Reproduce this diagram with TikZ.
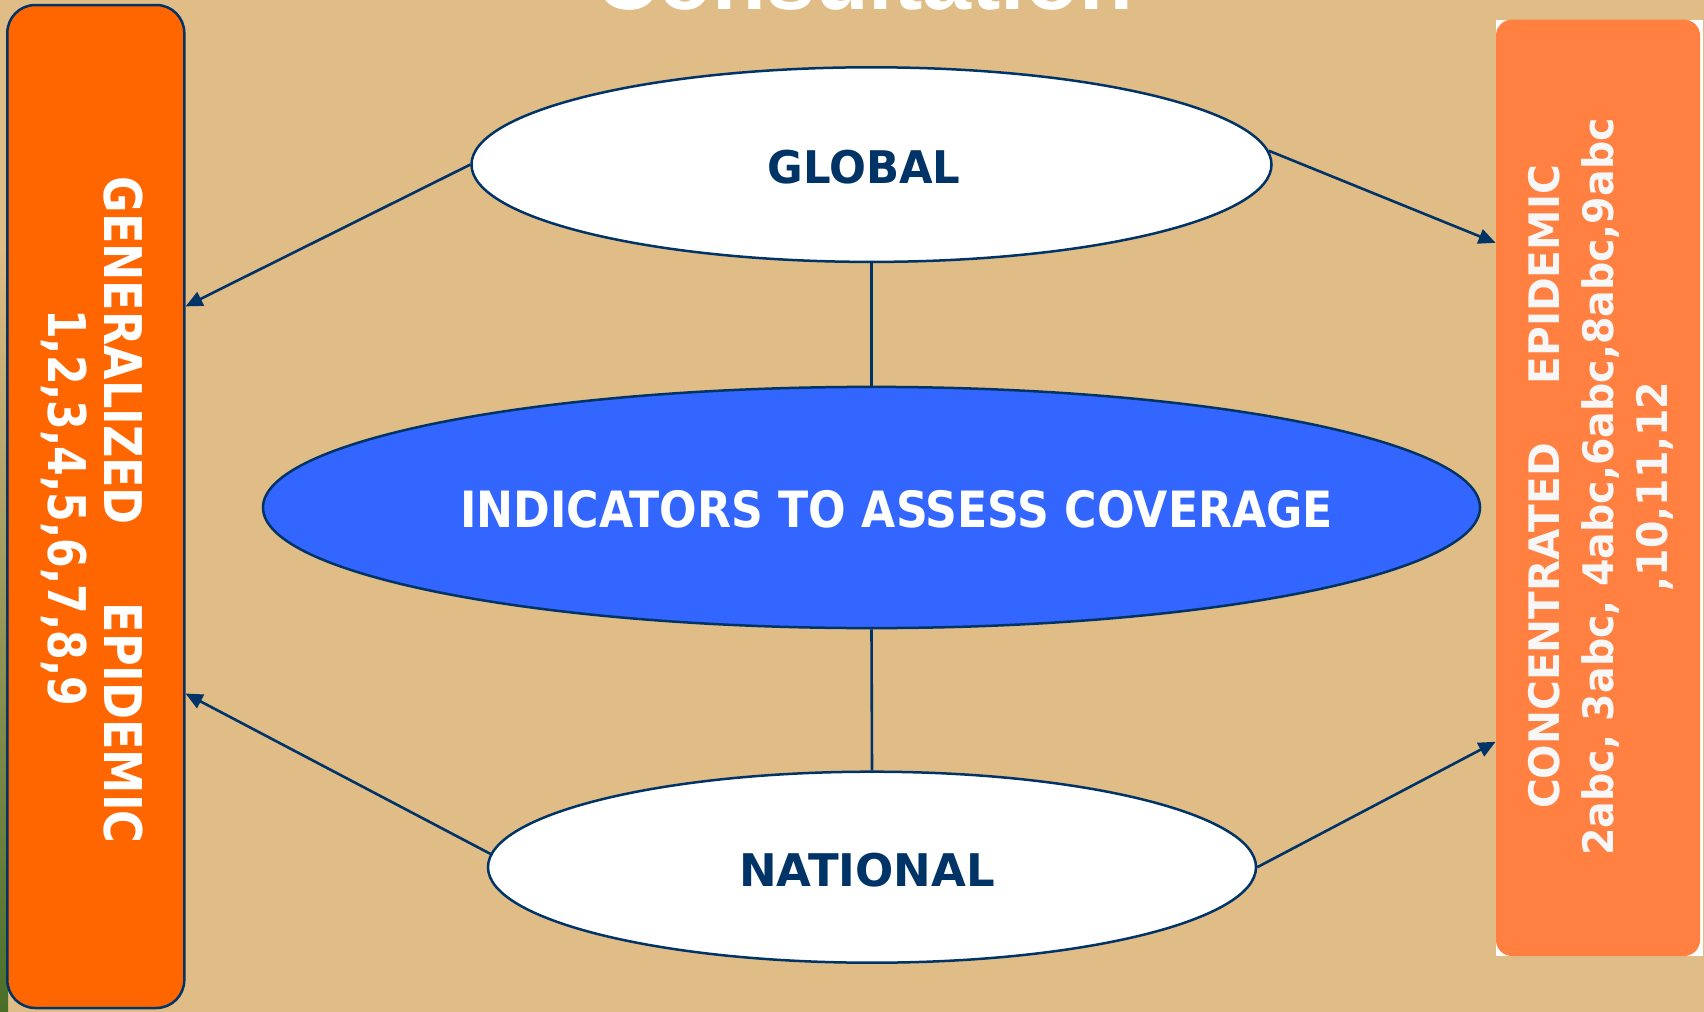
\documentclass[tikz,border=0pt]{standalone}
\usepackage{fontspec}
\setmainfont{DejaVu Sans}
\newfontfamily\titlefont{Liberation Sans}
\usetikzlibrary{arrows.meta,calc,shapes.geometric}
\definecolor{bg}{HTML}{E0BC86}
\definecolor{navy}{HTML}{003366}
\definecolor{lorange}{HTML}{FF6600}
\definecolor{rorange}{HTML}{FF8040}
\definecolor{cblue}{HTML}{3366FF}
\definecolor{lgreen}{HTML}{4A6E28}
\begin{document}
\begin{tikzpicture}[x=0.5pt,y=-0.5pt,
  ell/.style={ellipse, draw=navy, line width=1.25pt, inner sep=0pt},
  conn/.style={draw=navy, line width=1.3pt},
  arr/.style={conn, -{Triangle[length=8.5pt,width=7.5pt]}},
  lbl/.style={inner sep=0pt, anchor=base},
  ctext/.style={lbl, text=navy, font=\bfseries\fontsize{22.5pt}{27pt}\selectfont},
  ltext/.style={lbl, text=white, rotate=-90, font=\bfseries\fontsize{26pt}{30pt}\selectfont},
  rtext/.style={lbl, text=white!97!black, rotate=90, font=\bfseries\fontsize{21pt}{25pt}\selectfont}]
\useasboundingbox (0,0) rectangle (1704,1012);
\clip (0,0) rectangle (1704,1012);
\fill[bg] (0,0) rectangle (1704,1012);
\shade[top color=bg, bottom color=lgreen] (0,250) rectangle (8,1012);

% title (cut at the top)
\node[lbl, text=white, font=\titlefont\bfseries\fontsize{44pt}{50pt}\selectfont] (T) at (864,10) {Consultation};

% side boxes
\node[draw=navy, line width=1.25pt, fill=lorange, rounded corners=14pt,
      minimum width=88.5pt, minimum height=501.5pt, inner sep=0pt] (L) at (95.8,506.5) {};
\fill[white] (1496,19.6) rectangle (1703,956);
\node[fill=rorange, rounded corners=8pt,
      minimum width=102pt, minimum height=468.2pt, inner sep=0pt] (R) at (1598,487.8) {};

\node[ltext, xscale=0.857] (L1) at (104,510) {GENERALIZED\hspace{1.75em}EPIDEMIC};
\node[ltext, xscale=0.82] (L2) at (48,507.5) {1,2,3,4,5,6,7,8,9};

\node[rtext, xscale=0.966] (R1) at (1559,487) {CONCENTRATED\hspace{1.45em}EPIDEMIC};
\node[rtext, xscale=0.94] (R2) at (1613,487) {2abc, 3abc, 4abc,6abc,8abc,9abc};
\node[rtext, xscale=0.94] (R3) at (1667,486.5) {,10,11,12};

% ellipses
\node[ell, fill=white, minimum width=400pt, minimum height=97.3pt] (G) at (871.5,164.6) {};
\node[ell, fill=cblue, minimum width=608.5pt, minimum height=120.6pt] (B) at (871.5,507.5) {};
\node[ell, fill=white, minimum width=384pt, minimum height=95.5pt] (N) at (872,867.2) {};

\node[ctext, xscale=0.965] (Gt) at (864,183.3) {GLOBAL};
\node[ctext, xscale=1.0] (Nt) at (867,886) {NATIONAL};
\node[lbl, text=white, xscale=0.884, font=\bfseries\fontsize{25pt}{30pt}\selectfont] (Bt) at (896.5,527.5) {INDICATORS TO ASSESS COVERAGE};

% connectors
\draw[conn] (G.south) -- (B.north);
\draw[conn] (B.south) -- (N.north);
\draw[arr] (G.west) -- ($(L.north east)!0.301!(L.south east)$);
\draw[arr] (G.2) -- ($(R.north west)!0.2386!(R.south west)$);
\draw[arr] (N.178) -- ($(L.north east)!0.686!(L.south east)$);
\draw[arr] (N.east) -- ($(R.north west)!0.771!(R.south west)$);
\end{tikzpicture}
\end{document}
